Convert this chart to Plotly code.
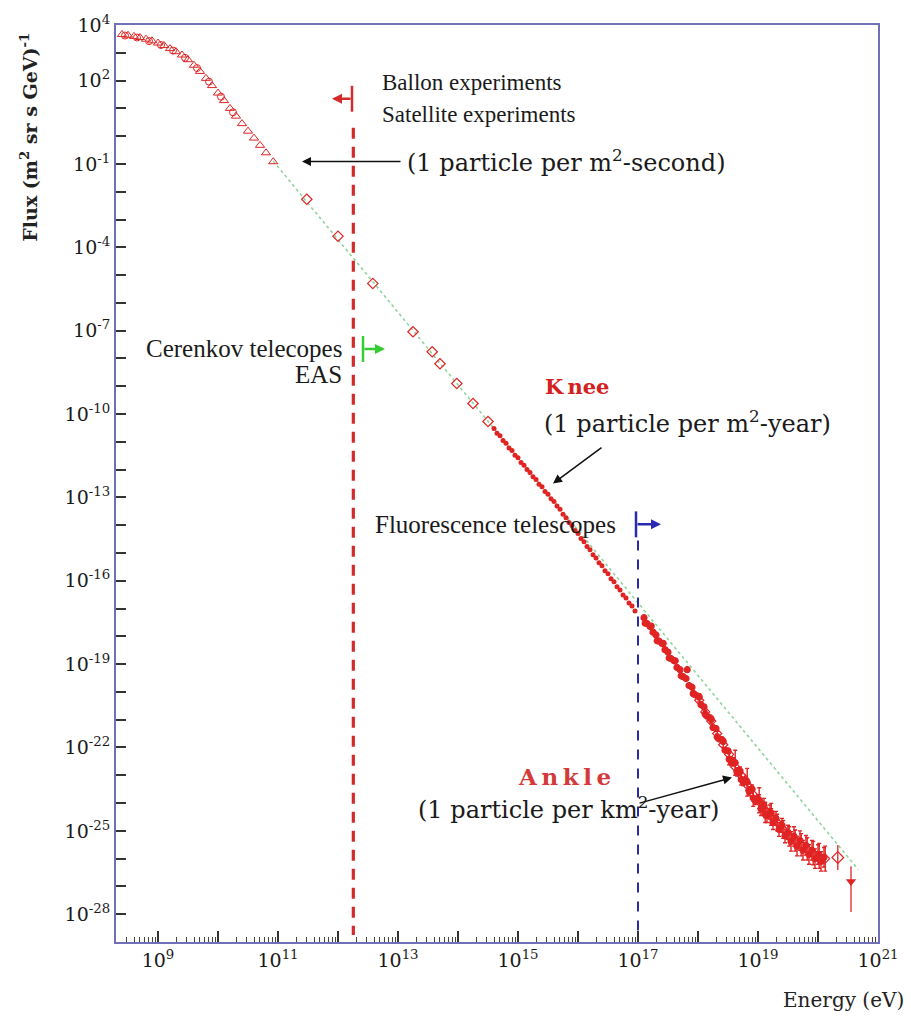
import numpy as np
import plotly.graph_objects as go

# ---------------- data (log10 values) ----------------
# balloon / satellite direct measurements (open triangles)
low_logE = [8.40, 8.50, 8.60, 8.70, 8.80, 8.90, 9.00, 9.10, 9.20, 9.30, 9.40, 9.50, 9.60,
            9.70, 9.80, 9.90, 10.00, 10.10, 10.20, 10.30, 10.40, 10.50, 10.60, 10.70, 10.80, 10.92]
low_logF = [3.66, 3.63, 3.59, 3.55, 3.49, 3.43, 3.35, 3.26, 3.15, 3.04, 2.92, 2.75, 2.55,
            2.33, 2.08, 1.82, 1.55, 1.28, 1.00, 0.72, 0.45, 0.18, -0.07, -0.33, -0.60, -0.92]
# second direct data set (open circles)
low2_logE = [8.45, 8.65, 8.85, 9.05, 9.25, 9.45, 9.65, 9.85, 10.05, 10.25]
low2_logF = [3.62, 3.55, 3.42, 3.28, 3.08, 2.82, 2.45, 1.96, 1.42, 0.86]
# intermediate energies (open diamonds)
mid_logE = [11.48, 12.00, 12.58, 13.25, 13.57, 13.70, 13.98, 14.25, 14.50]
mid_logF = [-2.27, -3.60, -5.30, -7.04, -7.76, -8.19, -8.90, -9.62, -10.27]
# knee region (air-shower arrays, small filled dots)
knee_logE = [14.60, 14.65, 14.70, 14.75, 14.80, 14.85, 14.90, 14.95, 15.00, 15.05, 15.10, 15.15,
             15.20, 15.25, 15.30, 15.35, 15.40, 15.45, 15.50, 15.55, 15.60, 15.65, 15.70, 15.75,
             15.80, 15.85, 15.90, 15.95, 16.00, 16.05, 16.10, 16.15, 16.20, 16.25, 16.30, 16.35,
             16.40, 16.45, 16.50, 16.55, 16.60, 16.65, 16.70, 16.75, 16.80, 16.85, 16.90, 16.95]
knee_logF = [-10.52, -10.69, -10.78, -10.95, -11.05, -11.22, -11.31, -11.48, -11.57, -11.74,
             -11.84, -12.00, -12.10, -12.26, -12.36, -12.53, -12.62, -12.79, -12.89, -13.05,
             -13.15, -13.31, -13.43, -13.61, -13.73, -13.90, -14.01, -14.19, -14.30, -14.48,
             -14.60, -14.77, -14.88, -15.06, -15.18, -15.35, -15.46, -15.64, -15.75, -15.93,
             -16.04, -16.22, -16.33, -16.51, -16.62, -16.80, -16.91, -17.09]
# ankle region (fluorescence / ground arrays, filled dots with error bars)
ankle_logE = [17.10, 17.15, 17.20, 17.25, 17.30, 17.35, 17.40, 17.45, 17.50, 17.55, 17.60, 17.65,
              17.70, 17.75, 17.80, 17.85, 17.90, 17.95, 18.00, 18.05, 18.10, 18.15, 18.20, 18.25,
              18.30, 18.35, 18.40, 18.45, 18.50, 18.55, 18.60, 18.65, 18.70, 18.75, 18.80, 18.85,
              18.90, 18.95, 19.00, 19.05, 19.10, 19.15, 19.20, 19.25, 19.30, 19.35, 19.40, 19.45,
              19.50, 19.55, 19.60, 19.65, 19.70, 19.75, 19.80, 19.85, 19.90, 19.95, 20.00, 20.05, 20.10]
ankle_logF = [-17.33, -17.54, -17.64, -17.85, -17.95, -18.17, -18.26, -18.48, -18.57, -18.80,
              -18.88, -19.12, -19.20, -19.45, -19.52, -19.77, -19.83, -20.10, -20.15, -20.46,
              -20.54, -20.87, -20.93, -21.28, -21.32, -21.69, -21.72, -22.10, -22.12, -22.50,
              -22.52, -22.88, -22.85, -23.22, -23.18, -23.56, -23.50, -23.90, -23.85, -24.20,
              -24.08, -24.45, -24.32, -24.70, -24.55, -24.95, -24.80, -25.18, -25.05, -25.38,
              -25.20, -25.55, -25.35, -25.70, -25.52, -25.85, -25.70, -26.00, -25.85, -26.10, -25.95]
ankle_err = [0.04, 0.04, 0.04, 0.04, 0.04, 0.04, 0.04, 0.04, 0.04, 0.04, 0.04, 0.04,
             0.04, 0.04, 0.04, 0.04, 0.04, 0.04, 0.04, 0.08, 0.08, 0.08, 0.08, 0.08,
             0.08, 0.08, 0.08, 0.08, 0.08, 0.15, 0.15, 0.15, 0.15, 0.15, 0.15, 0.15,
             0.15, 0.15, 0.15, 0.25, 0.25, 0.25, 0.25, 0.25, 0.25, 0.25, 0.25, 0.25,
             0.25, 0.35, 0.35, 0.35, 0.35, 0.35, 0.35, 0.35, 0.35, 0.35, 0.35, 0.35, 0.35]
ankle2_logE = [18.02, 18.12, 18.22, 18.32, 18.42, 18.52, 18.62, 18.72, 18.82, 18.92, 19.02,
               19.12, 19.22, 19.32, 19.42, 19.52, 19.62, 19.72, 19.82, 19.92, 20.02, 20.12]
ankle2_logF = [-20.30, -20.72, -21.05, -21.50, -21.90, -22.25, -22.70, -23.00, -23.35, -23.70,
               -23.95, -24.25, -24.50, -24.70, -24.95, -25.20, -25.35, -25.50, -25.65, -25.80,
               -25.90, -26.00]
ankle2_err = [0.06, 0.06, 0.08, 0.08, 0.10, 0.12, 0.15, 0.18, 0.20, 0.22, 0.25,
              0.28, 0.30, 0.30, 0.32, 0.35, 0.38, 0.40, 0.40, 0.42, 0.45, 0.45]
ankle3_logE = [17.12, 17.22, 17.32, 17.42, 17.52, 17.62, 17.72, 17.82, 17.92, 18.02, 18.12,
               18.22, 18.32, 18.42, 18.52, 18.62, 18.72, 18.82, 18.92, 19.02, 19.12, 19.22]
ankle3_logF = [-17.53, -17.63, -18.16, -18.25, -18.78, -18.88, -19.42, -19.20, -20.06, -20.18,
               -20.80, -20.98, -21.62, -21.78, -22.42, -22.55, -23.15, -23.25, -23.82, -23.90,
               -24.40, -24.36]
ankle3_err = [0.05, 0.05, 0.05, 0.05, 0.05, 0.05, 0.05, 0.05, 0.10, 0.10, 0.10,
              0.10, 0.10, 0.10, 0.20, 0.45, 0.20, 0.50, 0.30, 0.45, 0.30, 0.35]
# highest-energy points
uhe_diam_logE, uhe_diam_logF, uhe_diam_err = [20.33], [-25.96], [0.45]
uhe_tri_logE, uhe_tri_logF, uhe_tri_up, uhe_tri_dn = [20.55], [-26.82], [0.55], [1.10]
# E^-2.7-like reference line (green dotted)
ref_logE = [10.92, 20.67]
ref_logF = [-0.90, -26.39]
# detector thresholds (eV)
red_threshold = 1.8e12
blue_threshold = 1.0e17
red_span = [0.30, -28.75]
blue_span = [-14.55, -28.75]

x_label_exp = [9, 11, 13, 15, 17, 19, 21]
x_even_exp = [8, 10, 12, 14, 16, 18, 20]
y_label_exp = [4, 2, -1, -4, -7, -10, -13, -16, -19, -22, -25, -28]
y_other_exp = [e for e in range(-29, 5) if e not in y_label_exp]

# ---------------- helpers ----------------
def p(a):
    return list(10.0 ** np.array(a, dtype=float))

def errs(logv, e):
    v = 10.0 ** np.array(logv, dtype=float)
    e = np.array(e, dtype=float)
    return list(v * (10 ** e - 1)), list(v * (1 - 10 ** (-e)))

RED = "#e02424"
fig = go.Figure()

fig.add_trace(go.Scatter(x=p(ref_logE), y=p(ref_logF), mode="lines",
                         line=dict(color="#8fd49a", width=1.6, dash="dot"), hoverinfo="skip"))
fig.add_trace(go.Scatter(x=[red_threshold, red_threshold], y=p(red_span), mode="lines",
                         line=dict(color="#d42a2a", width=3.2, dash="11px,8px")))
fig.add_trace(go.Scatter(x=[blue_threshold, blue_threshold], y=p(blue_span), mode="lines",
                         line=dict(color="#2a2aa8", width=2, dash="10px,9px")))

fig.add_trace(go.Scatter(x=p(low_logE), y=p(low_logF), mode="markers",
                         marker=dict(symbol="triangle-up-open", size=8, color=RED,
                                     line=dict(width=1, color=RED))))
fig.add_trace(go.Scatter(x=p(low2_logE), y=p(low2_logF), mode="markers",
                         marker=dict(symbol="circle-open", size=7, color=RED,
                                     line=dict(width=1, color=RED))))
fig.add_trace(go.Scatter(x=p(mid_logE), y=p(mid_logF), mode="markers",
                         marker=dict(symbol="diamond-open", size=8, color=RED,
                                     line=dict(width=1.2, color=RED))))
fig.add_trace(go.Scatter(x=p(knee_logE), y=p(knee_logF), mode="markers",
                         marker=dict(symbol="circle", size=5, color=RED, line=dict(width=0))))
for le, lf, er, sym, sz in [(ankle_logE, ankle_logF, ankle_err, "circle", 6),
                            (ankle3_logE, ankle3_logF, ankle3_err, "circle", 6),
                            (ankle2_logE, ankle2_logF, ankle2_err, "diamond-open", 7)]:
    up, dn = errs(lf, er)
    fig.add_trace(go.Scatter(x=p(le), y=p(lf), mode="markers",
                             marker=dict(symbol=sym, size=sz, color=RED, line=dict(width=1.2, color=RED)),
                             error_y=dict(type="data", array=up, arrayminus=dn, color=RED,
                                          thickness=1.4, width=2)))
up, dn = errs(uhe_diam_logF, uhe_diam_err)
fig.add_trace(go.Scatter(x=p(uhe_diam_logE), y=p(uhe_diam_logF), mode="markers",
                         marker=dict(symbol="diamond-open", size=9, color=RED, line=dict(width=1.2, color=RED)),
                         error_y=dict(type="data", array=up, arrayminus=dn, color=RED, thickness=1.3, width=0)))
v = 10.0 ** np.array(uhe_tri_logF)
fig.add_trace(go.Scatter(x=p(uhe_tri_logE), y=list(v), mode="markers",
                         marker=dict(symbol="triangle-down", size=9, color=RED, line=dict(width=0)),
                         error_y=dict(type="data", array=list(v * (10 ** np.array(uhe_tri_up) - 1)),
                                      arrayminus=list(v * (1 - 10 ** (-np.array(uhe_tri_dn)))),
                                      color=RED, thickness=1.3, width=0)))
# invisible trace so the overlay axis (long ticks at even decades) is drawn
fig.add_trace(go.Scatter(x=[1e15], y=[1e-10], xaxis="x2", mode="markers",
                         marker=dict(opacity=0), hoverinfo="skip"))

# ---------------- annotations (paper coords from pixel positions) ----------------
L, R, T, B = 116, 33, 22, 74
W, H = 911, 1016
PW, PH = W - L - R, H - T - B

def X(px):
    return (px - L) / PW

def Y(py):
    return (H - B - py) / PH

SERIF = "Liberation Serif"
CENT = "DejaVu Serif"
ann = []

def text(s, px, py, xanchor="left", font=SERIF, size=24, color="#1a1a1a", **kw):
    ann.append(dict(text=s, x=X(px), y=Y(py), xref="paper", yref="paper", xanchor=xanchor,
                    yanchor="middle", showarrow=False, font=dict(family=font, size=size, color=color), **kw))

def arrow(tip, tail, color="#111111", width=1.5, head=2, size=1.2):
    ann.append(dict(text="", x=X(tip[0]), y=Y(tip[1]), xref="paper", yref="paper",
                    ax=tail[0] - tip[0], ay=tail[1] - tip[1], showarrow=True, arrowhead=head,
                    arrowsize=size, arrowwidth=width, arrowcolor=color, standoff=0))

TS = "\u2009"
text("Ballon experiments", 380, 80, size=23)
text("Satellite experiments", 380, 112, size=23)
text("(1 particle per m<sup>2</sup>-second)", 405, 158, font=CENT, size=24)
text("Cerenkov telecopes", 344, 347, xanchor="right", size=25)
text("EAS", 344, 373, xanchor="right", size=25)
text("<b>K" + TS + "nee</b>", 543, 385, font=CENT, size=21, color="#d42020")
text("(1 particle per m<sup>2</sup>-year)", 542, 420, font=CENT, size=24)
text("Fluorescence telescopes", 373, 523, size=25)
text("<b>" + TS.join("Ankle") + "</b>", 516, 776, font=CENT, size=23, color="#d43a3a")
text("(1 particle per km<sup>2</sup>-year)", 416, 808, font=CENT, size=24)
text("Energy (eV)", 906, 1000, xanchor="right", font=CENT, size=20, color="#222")
ann.append(dict(text="Flux (m<sup>2</sup> sr s GeV)<sup>-1</sup>", x=X(29), y=Y(135), xref="paper",
                yref="paper", xanchor="center", yanchor="middle", textangle=-90, showarrow=False,
                font=dict(family=CENT, size=19, color="#222", weight="bold")))

arrow((302, 159), (402, 159), width=1.5)
arrow((553, 482), (603, 445), width=1.5)
arrow((732, 777), (638, 803), width=1.5)
# detector range markers
arrow((332, 96), (352, 96), color="#d42a2a", width=2.5, head=2, size=0.8)
arrow((385, 347), (363, 347), color="#33cc33", width=2.5, head=2, size=0.8)
arrow((661, 523), (636, 523), color="#2a2ab0", width=2.5, head=2, size=0.8)

shapes = [
    dict(type="line", xref="paper", yref="paper", x0=X(352), x1=X(352), y0=Y(83), y1=Y(109),
         line=dict(color="#d42a2a", width=2.5)),
    dict(type="line", xref="paper", yref="paper", x0=X(363), x1=X(363), y0=Y(334), y1=Y(360),
         line=dict(color="#33cc33", width=2.5)),
    dict(type="line", xref="paper", yref="paper", x0=X(636), x1=X(636), y0=Y(510), y1=Y(536),
         line=dict(color="#2a2ab0", width=2.5)),
]

x_minor = [m * 10.0 ** e for e in range(8, 21) for m in range(2, 10)]
AXC = "#7070b8"
XR = [8.3, 21.0]
fig.update_layout(
    width=W, height=H, margin=dict(l=L, r=R, t=T, b=B),
    paper_bgcolor="white", plot_bgcolor="white", showlegend=False,
    annotations=ann, shapes=shapes,
    xaxis=dict(type="log", range=XR, showgrid=False, zeroline=False,
               showline=True, linecolor=AXC, linewidth=2, mirror=True,
               ticks="inside", ticklen=11, tickwidth=1.5, tickcolor="#333",
               tickvals=[10.0 ** e for e in x_label_exp],
               ticktext=[f"10<sup>{e}</sup>" for e in x_label_exp],
               minor=dict(ticks="inside", ticklen=5, tickwidth=1, tickcolor="#444", tickvals=x_minor),
               tickfont=dict(family=CENT, size=19, color="#1a1a1a")),
    xaxis2=dict(type="log", range=XR, overlaying="x", anchor="y", side="bottom",
                showgrid=False, zeroline=False, showline=False, showticklabels=False,
                ticks="inside", ticklen=11, tickwidth=1.5, tickcolor="#333",
                tickvals=[10.0 ** e for e in x_even_exp]),
    yaxis=dict(type="log", range=[-29, 4], showgrid=False, zeroline=False,
               showline=True, linecolor=AXC, linewidth=2, mirror=True,
               ticks="inside", ticklen=10, tickwidth=1.5, tickcolor="#333",
               tickvals=[10.0 ** e for e in y_label_exp],
               ticktext=[f"10<sup>{e}</sup>" for e in y_label_exp],
               minor=dict(ticks="inside", ticklen=10, tickwidth=1.5, tickcolor="#333",
                          tickvals=[10.0 ** e for e in y_other_exp]),
               tickfont=dict(family=CENT, size=19, color="#1a1a1a")),
)

fig.write_html("out.html", config={"displayModeBar": False})
